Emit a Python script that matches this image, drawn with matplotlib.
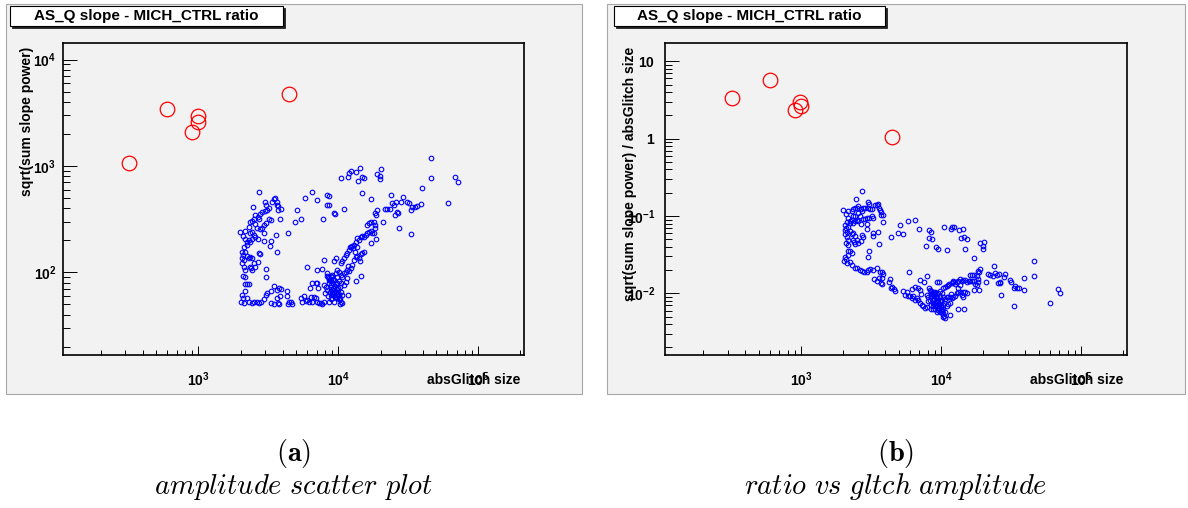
import numpy as np
import matplotlib
matplotlib.use('Agg')
import matplotlib.pyplot as plt
from matplotlib.patches import Rectangle
from matplotlib.ticker import LogLocator, NullFormatter, FixedLocator, FixedFormatter

plt.rcParams['font.family'] = ['Liberation Sans', 'DejaVu Sans']
plt.rcParams['mathtext.fontset'] = 'custom'
plt.rcParams['mathtext.rm'] = 'Liberation Sans:bold'
plt.rcParams['mathtext.bf'] = 'Liberation Sans:bold'
plt.rcParams['mathtext.it'] = 'Liberation Sans:bold:italic'
plt.rcParams['mathtext.sf'] = 'Liberation Sans:bold'

# ---------------- data ----------------
title = 'AS_Q slope - MICH_CTRL ratio'
xlabel = 'absGlitch size'
ylabel_a = 'sqrt(sum slope power)'
ylabel_b = 'sqrt(sum slope power) / absGlitch size'
caption_a = ('(a)', 'amplitude scatter plot')
caption_b = ('(b)', 'ratio vs gltch amplitude')

# red (vetoed) glitches
red_size = [321, 600, 901, 989, 990, 4470]
red_power = [1074, 3430, 2100, 2966, 2590, 4745]

# blue glitches, grouped by region of the scatter
loop_size = [2701, 2460, 2981, 3031, 3365, 3458, 3535, 3614, 3693, 3733,
             3818, 3860, 3633, 3203, 3098, 2981, 2869, 2776, 2656, 2557,
             2487, 2420, 2354, 2316, 2557, 2627, 2746, 2869, 2965, 2932,
             2716, 3031, 3203, 3273]
loop_power = [564, 411, 454, 432, 462, 485, 499, 454, 420, 385,
              315, 397, 432, 399, 385, 377, 366, 350, 330, 343,
              317, 305, 294, 266, 283, 259, 254, 259, 235, 280,
              315, 289, 317, 312]

edge_size = [1996, 2143, 2086, 2167, 2228, 2290, 2354, 2420, 2487, 2528,
             2328, 2420, 2228, 2109, 2167, 2052, 2086, 2052, 2109, 2052,
             2109, 2167, 2228, 2290, 2354, 2420, 2328, 2380, 2420, 2086,
             2143, 2167, 2228, 2316, 2167, 2052, 2074, 2018, 2109, 2228,
             2290, 2420, 2487, 2627, 2701, 2822, 2932, 3015, 3098, 3273,
             3458, 3653, 3756, 3860, 3798, 3614, 3327, 3458, 3733, 3777]
edge_power = [241, 246, 219, 207, 194, 201, 194, 207, 224, 216,
              232, 241, 181, 174, 156, 156, 146, 135, 131, 121,
              113, 105, 143, 135, 140, 135, 113, 109, 105, 92.4,
              89.7, 77.6, 77.6, 77.6, 67.3, 61.2, 57.1, 53.1, 52.0, 57.1,
              53.1, 51.2, 53.1, 52.4, 52.0, 53.1, 56.0, 61.2, 64.4, 66.6,
              74.4, 68.3, 70.8, 69.3, 60.0, 57.1, 51.2, 50.6, 51.2, 50.6]

inner_size = [2656, 2701, 2776, 2932, 3273, 3238, 3555, 3614, 4356, 3048,
              3015, 2686, 2487, 2557]
inner_power = [207, 153, 149, 198, 197, 177, 224, 156, 232, 107,
               90.3, 126, 121, 113]

mid_size = [5053, 4889, 5369, 5768, 6474, 6990, 8245, 8522, 8245, 8617,
            9255, 9460, 10972, 7800]
mid_power = [385, 299, 317, 502, 568, 478, 537, 525, 429, 432,
             363, 355, 396, 320]

arm_size = [4308, 4262, 4428, 4602, 4679, 4353, 5369, 5672, 5519, 5830,
            5992, 6160, 6331, 6508, 6689, 6876, 7068, 7266, 7466, 7675,
            7888, 5925, 6229, 6508, 6876, 7068, 7147, 7030, 7590, 7888,
            8245, 8430, 8522, 8805, 9052, 9305, 9565, 9830, 9940, 10270,
            10385, 10675, 10972, 11280, 11592, 11920, 12250, 12590, 12940, 13300,
            13670, 14050, 14440, 14850, 15260, 9305, 9670, 10385, 10675, 10972,
            11280, 11470, 11920, 12250, 12590, 12940, 13300, 13670, 14050, 14440,
            14850, 15260, 15690, 16126, 16580, 17040, 17520, 18000, 17040, 18500,
            14290, 14600, 13300, 11660, 12120, 12660, 13090, 13670]
arm_power = [67.0, 60.0, 53.1, 53.1, 50.6, 50.6, 57.1, 60.0, 53.1, 54.1,
             55.0, 53.1, 58.3, 53.1, 59.1, 57.1, 53.1, 51.2, 52.0, 49.9,
             53.1, 113, 70.8, 78.8, 79.9, 78.8, 70.8, 104, 108, 131,
             97.9, 89.7, 84.7, 92.4, 94.4, 84.7, 77.6, 78.8, 70.8, 73.3,
             65.8, 61.2, 76.0, 81.8, 87.9, 103, 109, 117, 131, 138,
             143, 135, 149, 153, 156, 129, 135, 121, 129, 135,
             146, 153, 162, 174, 177, 181, 194, 209, 201, 213,
             219, 216, 224, 232, 241, 246, 232, 232, 190, 204,
             129, 92.4, 83.1, 61.7, 174, 168, 156, 174]

core_size = [8522, 8805, 9052, 9305, 9565, 9830, 8805, 9052, 8522, 9305,
             8334, 8110, 7888, 8710, 8905, 9200, 9410, 9725, 9940, 10105,
             10270, 10500, 10675, 10270, 9052, 9565, 9830, 10105, 10385, 10675,
             10972, 11280, 11592, 11790, 8600, 8900, 9150, 9400, 9700, 9000,
             8700, 8400, 9600, 9900, 10100, 8800, 9150, 9450, 9200, 8350,
             10150, 10500, 9750, 8050]
core_power = [78.8, 73.3, 68.3, 63.5, 59.1, 57.1, 61.2, 57.1, 53.1, 53.1,
              68.3, 73.3, 76.0, 84.7, 76.0, 70.8, 67.3, 62.6, 65.8, 61.2,
              57.1, 53.1, 51.2, 50.6, 91.0, 97.9, 105, 101, 94.4, 91.0,
              97.9, 101, 105, 115, 88, 82, 79, 74, 70, 64,
              66, 60, 66, 60, 56, 56, 62, 58, 86, 92,
              83, 79, 90, 64]

tail_size = [16126, 16580, 17040, 18000, 18300, 18200, 18500, 18800, 18300, 20770,
             21700, 22430, 23430, 24350, 25030, 25740, 26450, 26170, 25310, 26900,
             27950, 28740, 30880, 31740, 32960, 33500, 35000, 36200, 38870, 39400,
             32960, 17130, 14850, 23690, 46060, 60340, 68400, 71200]
tail_power = [278, 289, 294, 299, 278, 259, 345, 385, 358, 294,
              391, 391, 391, 444, 427, 460, 358, 371, 345, 259,
              460, 506, 460, 444, 385, 414, 408, 420, 436, 614,
              227, 485, 560, 533, 765, 450, 780, 710]

top_size = [10500, 11790, 11980, 12380, 13450, 14680, 15350, 13900, 18800, 19770,
            19990, 14220, 20090, 45800]
top_power = [765, 791, 862, 893, 882, 791, 765, 723, 832, 802,
             746, 961, 927, 1186]

x_major = [1e3, 1e4, 1e5]
x_major_labels = ['$10^{3}$', '$10^{4}$', '$10^{5}$']
ya_major = [1e2, 1e3, 1e4]
ya_major_labels = ['$10^{2}$', '$10^{3}$', '$10^{4}$']
yb_major = [1e-2, 1e-1, 1, 10]
yb_major_labels = ['$10^{-2}$', '$10^{-1}$', '$1$', '$10$']

blue_size = np.array(loop_size + edge_size + inner_size + mid_size + arm_size
                     + core_size + tail_size + top_size, dtype=float)
blue_power = np.array(loop_power + edge_power + inner_power + mid_power + arm_power
                      + core_power + tail_power + top_power, dtype=float)
red_size_a = np.array(red_size, dtype=float)
red_power_a = np.array(red_power, dtype=float)

# ---------------- layout ----------------
W, H = 1188, 508
fig = plt.figure(figsize=(W / 100, H / 100), dpi=100)
fig.patch.set_facecolor('white')
CANVAS = '#f2f2f2'


def fig_rect(x0, y0, x1, y1):
    return (x0 / W, 1 - y1 / H, (x1 - x0) / W, (y1 - y0) / H)


panels = [
    dict(canvas=(5.7, 4, 582, 394), frame=(62.6, 43, 524, 355), tbox=(10, 6, 283, 26),
         ylim=(16.7, 14300), ylabel=ylabel_a, yt=ya_major, ytl=ya_major_labels,
         ypad=4.6, y=blue_power, yr=red_power_a, cap=caption_a),
    dict(canvas=(607, 4, 1185, 394), frame=(665.3, 43, 1126.8, 355), tbox=(613.7, 6, 885, 26),
         ylim=(0.0016, 17.2), ylabel=ylabel_b, yt=yb_major, ytl=yb_major_labels,
         ypad=7.5, y=blue_power / blue_size, yr=red_power_a / red_size_a, cap=caption_b),
]

for p in panels:
    cx0, cy0, cx1, cy1 = p['canvas']
    x, y, w, h = fig_rect(cx0, cy0, cx1, cy1)
    fig.add_artist(Rectangle((x, y), w, h, transform=fig.transFigure,
                             facecolor=CANVAS, edgecolor='#a8a8a8', lw=0.8, zorder=0))
    # title box with shadow
    tx0, ty0, tx1, ty1 = p['tbox']
    x, y, w, h = fig_rect(tx0 + 2, ty0 + 2, tx1 + 2, ty1 + 2)
    fig.add_artist(Rectangle((x, y), w, h, transform=fig.transFigure,
                             facecolor='#222222', edgecolor='#222222', lw=0.6, zorder=1))
    x, y, w, h = fig_rect(tx0, ty0, tx1, ty1)
    fig.add_artist(Rectangle((x, y), w, h, transform=fig.transFigure,
                             facecolor='white', edgecolor='black', lw=0.8, zorder=2))
    fig.text((tx0 + tx1) / 2 / W, 1 - (ty0 + ty1) / 2 / H, title, ha='center', va='center',
             fontsize=11, fontweight='bold', zorder=3)

    fx0, fy0, fx1, fy1 = p['frame']
    ax = fig.add_axes(fig_rect(fx0, fy0, fx1, fy1))
    ax.set_facecolor(CANVAS)
    ax.set_xscale('log')
    ax.set_yscale('log')
    ax.set_xlim(107, 212000)
    ax.set_ylim(*p['ylim'])

    ax.plot(blue_size, p['y'], 'o', ls='none', ms=3.3, mfc='none', mec='#0000ff', mew=0.8)
    ax.plot(red_size_a, p['yr'], 'o', ls='none', ms=10.5, mfc='none', mec='#ff0000', mew=0.9)

    ax.xaxis.set_major_locator(FixedLocator(x_major))
    ax.xaxis.set_major_formatter(FixedFormatter(x_major_labels))
    ax.xaxis.set_minor_locator(LogLocator(base=10, subs=np.arange(2, 10), numticks=100))
    ax.xaxis.set_minor_formatter(NullFormatter())
    ax.yaxis.set_major_locator(FixedLocator(p['yt']))
    ax.yaxis.set_major_formatter(FixedFormatter(p['ytl']))
    ax.yaxis.set_minor_locator(LogLocator(base=10, subs=np.arange(2, 10), numticks=100))
    ax.yaxis.set_minor_formatter(NullFormatter())

    ax.tick_params(which='both', direction='in', top=False, right=False,
                   color='black', width=0.7, labelsize=10)
    ax.tick_params(axis='x', which='major', length=6.8, pad=11)
    ax.tick_params(axis='x', which='minor', length=3.4)
    ax.tick_params(axis='y', which='major', length=9.9, pad=p['ypad'])
    ax.tick_params(axis='y', which='minor', length=5.0)

    for s in ax.spines.values():
        s.set_linewidth(1.2)
        s.set_color('black')

    ax.set_xlabel(xlabel, fontsize=10, fontweight='bold', ha='right', va='center')
    ax.xaxis.set_label_coords(0.993, -0.080)
    ax.set_ylabel(p['ylabel'], fontsize=10, fontweight='bold', ha='right', va='center',
                  rotation=90, rotation_mode='anchor')
    ax.yaxis.set_label_coords(-0.077, 0.987)

    ccx = (cx0 + cx1) / 2 / W
    fig.text(ccx, 1 - 454 / H, r'$\mathbf{' + p['cap'][0] + '}$', math_fontfamily='cm',
             fontsize=20.5, ha='center', va='center')
    fig.text(ccx, 1 - 487 / H, r'$\mathit{' + p['cap'][1].replace(' ', r'\ ') + '}$',
             math_fontfamily='cm', fontsize=20.5, ha='center', va='center')

fig.savefig('out.png', dpi=100)
